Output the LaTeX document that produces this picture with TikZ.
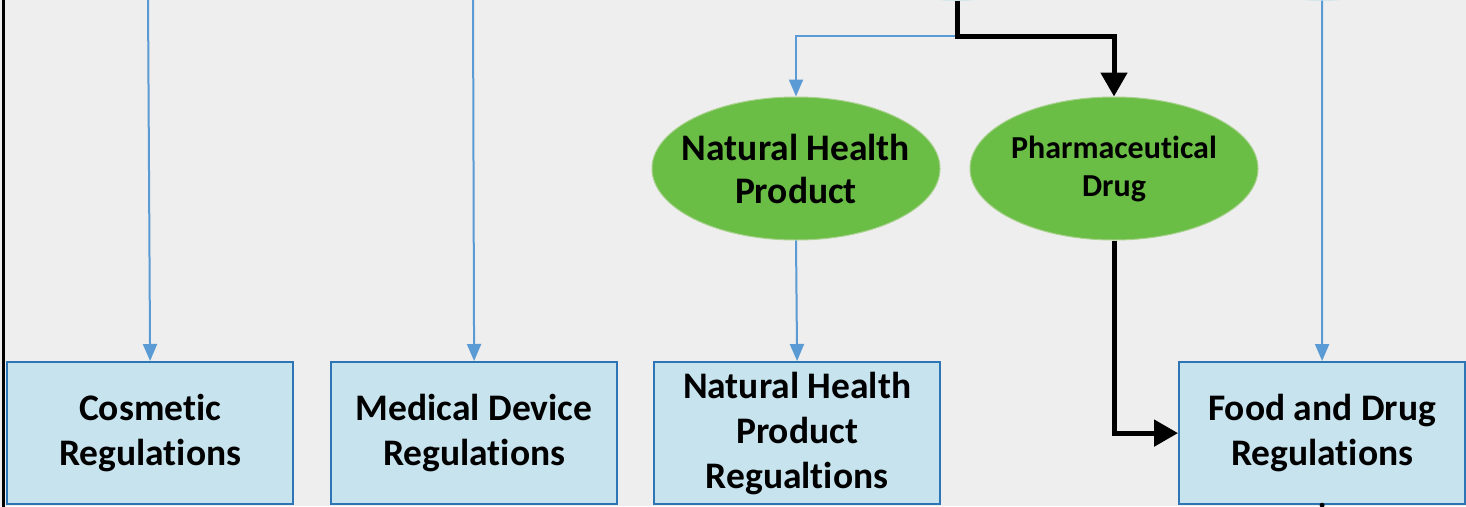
\documentclass[tikz,border=0pt]{standalone}
\usepackage{fontspec}
\setmainfont{Carlito}[Ligatures=NoCommon]
\usetikzlibrary{arrows.meta,shapes.geometric}
\definecolor{bg}{HTML}{EDEEED}
\definecolor{boxfill}{HTML}{C6E3EE}
\definecolor{boxline}{HTML}{2E75B6}
\definecolor{arrowblue}{HTML}{5B9BD5}
\definecolor{ellgreen}{HTML}{6ABD45}
\definecolor{ellline}{HTML}{A9D18E}
\definecolor{topblue}{HTML}{A3D9EB}
\begin{document}
\begin{tikzpicture}[x=1pt,y=-1pt,
  regbox/.style={draw=boxline, line width=2.2pt, fill=boxfill, minimum width=286pt, minimum height=142pt,
    inner sep=0pt, font=\bfseries\fontsize{37.5}{45}\selectfont, align=center, anchor=north west},
  prodell/.style={ellipse, draw=ellline, line width=1pt, fill=ellgreen, minimum width=288pt, minimum height=143pt,
    inner sep=0pt},
  topell/.style={ellipse, fill=topblue, minimum width=288pt, minimum height=143pt, inner sep=0pt},
  bluearrow/.style={draw=arrowblue, line width=2pt, -{Triangle[width=14pt,length=17pt]}},
  blueline/.style={draw=arrowblue, line width=2pt},
  blackarrow/.style={draw=black, line width=5pt, -{Triangle[width=26pt,length=24pt]}}
]
\useasboundingbox (0,0) rectangle (1466,506);
\clip (0,0) rectangle (1466,506);
\fill[bg] (0,0) rectangle (1466,506);
\draw[line width=3pt] (3,-2) -- (3,508);

% partially visible nodes above the frame
\node[topell] (topA) at (957,-71) {};
\node[topell] (topB) at (1322,-71) {};
\coordinate (t1) at (148,-2);
\coordinate (t2) at (473,-2);
\coordinate (split) at (957,36);

% regulation boxes
\node[regbox] (cos) at (6,361) {Cosmetic\\Regulations};
\node[regbox] (med) at (330,361) {Medical Device\\Regulations};
\node[regbox] (nhpr) at (653,361) {Natural Health\\Product\\Regualtions};
\node[regbox] (food) at (1178,361) {Food and Drug\\Regulations};

% product ellipses
\node[prodell, label={[align=center, font=\bfseries\fontsize{37.5}{43}\selectfont]center:Natural Health\\Product}] (nhp) at (796,168.5) {};
\node[prodell, label={[align=center, font=\bfseries\fontsize{32}{38}\selectfont]center:Pharmaceutical\\Drug}] (pharma) at (1114,168.5) {};

% connectors
\draw[bluearrow] (t1) -- (cos.north);
\draw[bluearrow] (t2) -- (med.north);
\draw[bluearrow] (topB.south) -- (food.north);
\draw[blueline] (topA.south) -- (split);
\draw[bluearrow] (split) -| (nhp.north);
\draw[bluearrow] (nhp.south) -- (nhpr.north);
\draw[blackarrow] (topA.south) -- (split) -| (pharma.north);
\draw[blackarrow] (pharma.south) |- (food.west);

\coordinate (fb) at (food.south);
\fill (fb) circle (2.5pt);
\draw[line width=3pt] (fb) -- ++(0,10);
\end{tikzpicture}
\end{document}
